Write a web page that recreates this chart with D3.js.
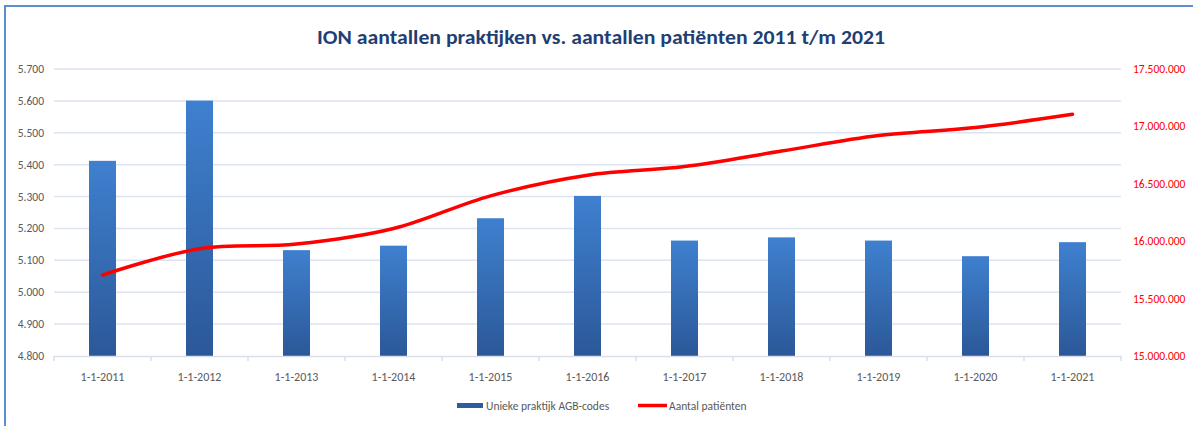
<!DOCTYPE html>
<html><head><meta charset="utf-8">
<script src="https://cdn.jsdelivr.net/npm/d3@7"></script>
<style>body{margin:0;background:#fff}svg{display:block}</style>
</head><body><svg id="c" width="1193" height="426"></svg>
<script>
const categories = ["1-1-2011","1-1-2012","1-1-2013","1-1-2014","1-1-2015","1-1-2016","1-1-2017","1-1-2018","1-1-2019","1-1-2020","1-1-2021"];
const practices = [5412, 5601, 5132, 5146, 5232, 5302, 5162, 5172, 5162, 5113, 5157];
const patients = [15705000, 15935000, 15975000, 16110000, 16395000, 16575000, 16650000, 16785000, 16920000, 16990000, 17105000];
const leftTicks = [4800,4900,5000,5100,5200,5300,5400,5500,5600,5700];
const rightTicks = [15000000,15500000,16000000,16500000,17000000,17500000];
const title = "ION aantallen praktijken vs. aantallen patiënten 2011 t/m 2021";
const seriesNames = ["Unieke praktijk AGB-codes","Aantal patiënten"];

const svg = d3.select("#c");
const font = "Calibri, Carlito, 'Open Sans', sans-serif";
const m = {l:54, r:1121, t:69, b:356};
const fmt = d => d3.format(",")(d).replace(/,/g,".");

// frame
svg.append("path").attr("d","M5,426 V6 H1193").attr("fill","none").attr("stroke","#5b8fd0").attr("stroke-width",2);

const xb = d3.scaleBand().domain(categories).range([m.l,m.r]);
const yL = d3.scaleLinear().domain([4800,5700]).range([m.b,m.t]);
const yR = d3.scaleLinear().domain([15000000,17500000]).range([m.b,m.t]);

// gridlines
svg.append("g").selectAll("line").data(leftTicks.slice(1)).join("line")
  .attr("x1",m.l).attr("x2",m.r).attr("y1",d=>yL(d)).attr("y2",d=>yL(d))
  .attr("stroke","#dbe4f0").attr("stroke-width",1.5);

// gradient
const defs = svg.append("defs");
const g = defs.append("linearGradient").attr("id","bg").attr("x1",0).attr("y1",0).attr("x2",0).attr("y2",1);
g.append("stop").attr("offset","0%").attr("stop-color","#3f80cf");
g.append("stop").attr("offset","100%").attr("stop-color","#2b5898");

// bars
svg.append("g").selectAll("rect").data(categories).join("rect")
  .attr("x",d=>xb(d)+xb.bandwidth()/2-13.5).attr("width",27)
  .attr("y",(d,i)=>yL(practices[i])).attr("height",(d,i)=>m.b-yL(practices[i]))
  .attr("fill","url(#bg)");

// x axis
const xa = svg.append("g").attr("transform",`translate(0,${m.b})`)
  .call(d3.axisBottom(xb).tickSize(0).tickPadding(16));
xa.select(".domain").attr("stroke","#d6dfeb").attr("stroke-width",1.5);
xa.selectAll("text").attr("fill","#595959").attr("font-family",font).attr("font-size",12);
svg.append("g").selectAll("line").data(d3.range(categories.length+1)).join("line")
  .attr("x1",i=>m.l+i*xb.step()).attr("x2",i=>m.l+i*xb.step())
  .attr("y1",m.b).attr("y2",m.b+5).attr("stroke","#d6dfeb").attr("stroke-width",1.5);

// left axis labels
svg.append("g").selectAll("text").data(leftTicks).join("text")
  .attr("x",44).attr("y",d=>yL(d)+4).attr("text-anchor","end")
  .attr("fill","#595959").attr("font-family",font).attr("font-size",11.5).text(fmt);

// right axis labels
svg.append("g").selectAll("text").data(rightTicks).join("text")
  .attr("x",1133).attr("y",d=>yR(d)+4).attr("text-anchor","start")
  .attr("fill","#ff0000").attr("font-family",font).attr("font-size",11.5).text(fmt);

// line
const line = d3.line().x((d,i)=>xb(categories[i])+xb.bandwidth()/2).y(d=>yR(d)).curve(d3.curveCatmullRom.alpha(0.5));
svg.append("path").datum(patients).attr("d",line).attr("fill","none")
  .attr("stroke","#ff0000").attr("stroke-width",3.5).attr("stroke-linecap","round");

// title
svg.append("text").attr("x",601).attr("y",44).attr("text-anchor","middle")
  .attr("fill","#1f3f74").attr("font-family",font).attr("font-weight","bold").attr("font-size",21)
  .attr("textLength",568).attr("lengthAdjust","spacingAndGlyphs").text(title);

// legend
const lg = svg.append("g");
lg.append("rect").attr("x",457).attr("y",403).attr("width",26).attr("height",5).attr("fill","#2e5c9c");
lg.append("text").attr("x",486).attr("y",410).attr("fill","#595959").attr("font-family",font).attr("font-size",11.5).text(seriesNames[0]);
lg.append("line").attr("x1",638).attr("x2",667).attr("y1",405.5).attr("y2",405.5).attr("stroke","#ff0000").attr("stroke-width",3.5);
lg.append("text").attr("x",669).attr("y",410).attr("fill","#595959").attr("font-family",font).attr("font-size",11.5).text(seriesNames[1]);
</script></body></html>
